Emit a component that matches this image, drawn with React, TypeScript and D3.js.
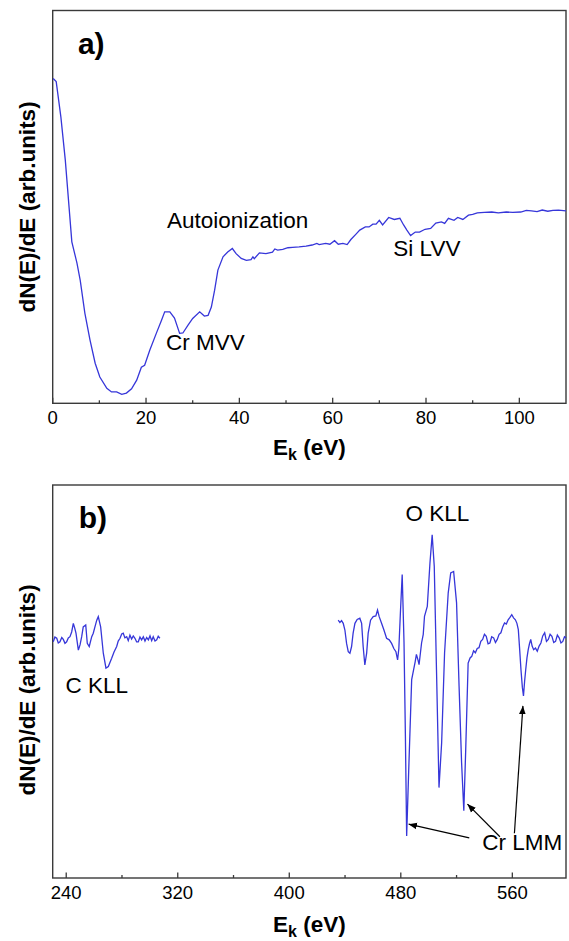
import React from "react";
import * as d3 from "d3";

// panel a) low energy region, E_k in eV, signal in arbitrary units (0..100 of the frame)
const aEnergy = [
  0.1, 0.75, 1.75, 2.7, 4.1, 5.2, 5.9, 6.9, 8.0, 9.1, 10.1, 11.6, 12.6, 13.7, 14.8, 15.8,
  16.9, 18.0, 19.0, 19.7, 20.8, 22.2, 23.3, 24.0, 25.1, 26.1, 27.2, 27.9, 29.0, 30.0, 31.5,
  32.5, 33.3, 34.0, 34.7, 35.4, 36.5, 37.5, 38.5, 39.3, 40.4, 41.5, 42.5, 42.9, 43.2, 44.3,
  45.7, 47.1, 47.6, 48.2, 49.3, 50.4, 51.4, 52.8, 54.3, 55.6, 56.6, 57.1, 58.5, 59.4, 60.4,
  61.2, 62.2, 63.1, 63.9, 65.1, 65.8, 67.0, 67.8, 68.6, 69.3, 70.0, 70.7, 72.0, 73.2, 74.4,
  75.2, 75.9, 76.7, 77.7, 78.6, 79.8, 81.0, 82.1, 83.3, 84.0, 84.8, 86.0, 86.8, 87.9, 89.1,
  90.0, 91.0, 92.5, 94.1, 95.5, 97.2, 98.6, 100.3, 101.5, 102.6, 103.8, 104.9, 106.1, 107.2,
  108.4, 110,
];
const aSignal = [
  82.7, 81.9, 72.9, 61.9, 41.1, 35.7, 31.3, 22.9, 16.1, 10.2, 6.7, 3.8, 2.9, 2.9, 2.3, 2.6,
  3.7, 5.9, 9.2, 9.7, 13.5, 17.8, 21.1, 23.3, 23.3, 21.7, 17.8, 17.9, 19.9, 21.6, 23.3,
  22.2, 22.4, 24.5, 28.8, 33.9, 37.3, 38.5, 39.4, 38.1, 36.9, 36.4, 36.6, 37.3, 36.8, 38.3,
  38.1, 38.5, 39.3, 39.0, 39.2, 39.6, 39.7, 39.8, 40.0, 40.3, 40.7, 40.4, 40.7, 40.5, 41.4,
  40.5, 40.7, 40.4, 41.7, 43.2, 44.1, 44.9, 44.9, 45.6, 45.6, 46.6, 45.4, 47.3, 46.8, 47.1,
  45.4, 44.1, 42.7, 43.6, 43.6, 44.3, 44.5, 45.9, 46.2, 45.8, 47.1, 46.6, 47.3, 46.8, 47.9,
  48.1, 48.5, 48.6, 48.7, 48.5, 48.7, 48.6, 48.7, 49.1, 49.0, 48.8, 49.2, 48.9, 49.1, 49.2,
  49.0,
];
const aTicks = [0, 20, 40, 60, 80, 100];
const aMinorTicks = [10, 30, 50, 70, 90];

// panel b) high energy region, two recorded windows
const bLowEnergy = [
  230.7, 231.9, 233.2, 234.3, 235.5, 236.8, 237.9, 239.1, 240.3, 241.5,
  242.7, 243.9, 245.1, 246.1, 247.0, 248.7, 249.9, 251.1, 252.2, 254.0,
  255.1, 256.5, 258.3, 259.4, 260.6, 261.9, 263.0, 264.7, 266.6, 268.5,
  270.2, 272.6, 274.3, 276.2, 277.3, 278.6, 279.8, 280.9, 282.1, 283.4,
  284.5, 285.7, 286.9, 288.1, 289.3, 290.5, 291.7, 292.9, 294.1, 295.3,
  296.5, 297.7, 298.9, 300.1, 301.3, 302.4, 303.7, 304.9, 306.0, 307.2,
];
const bLowSignal = [
  60.1, 61.3, 61.0, 59.8, 60.1, 61.2, 60.7, 59.7, 60.1, 61.1,
  61.4, 62.6, 64.8, 63.6, 62.3, 58.0, 59.3, 61.4, 63.9, 64.4,
  59.7, 58.9, 61.4, 62.3, 63.9, 65.6, 66.5, 63.9, 57.2, 53.4,
  53.8, 55.9, 57.5, 58.9, 60.3, 61.0, 62.1, 62.3, 61.1, 61.4,
  60.4, 61.8, 60.8, 61.6, 61.0, 60.1, 60.1, 61.3, 60.6, 61.4,
  60.3, 61.2, 60.6, 61.6, 60.4, 61.4, 60.3, 60.6, 61.5, 61.0,
];
const bHighEnergy = [
  435.1, 436.3, 437.5, 438.7, 439.9, 441.1, 442.3, 443.5, 444.7, 445.8,
  447.1, 448.7, 450.6, 451.9, 453.0, 454.2, 455.5, 456.6, 458.3, 460.2,
  462.1, 463.3, 464.5, 466.2, 467.9, 469.8, 471.7, 473.4, 475.0, 476.5,
  477.7, 478.6, 479.8, 481.0, 482.3, 483.3, 484.2, 485.7, 487.8, 489.2,
  490.3, 491.2, 492.3, 493.1, 494.9, 496.1, 497.0, 499.0, 500.9, 502.5,
  504.0, 505.6, 507.4, 509.3, 511.4, 514.0, 515.8, 517.9, 520.0, 521.8,
  523.6, 525.2, 526.5, 528.3, 529.7, 530.9, 532.2, 533.5, 534.8, 536.1,
  537.4, 538.7, 540.0, 541.3, 542.6, 543.9, 545.2, 546.6, 547.9, 549.2,
  550.5, 551.8, 553.1, 554.4, 555.7, 557.0, 558.3, 559.6, 560.9, 562.2,
  563.3, 564.3, 565.2, 566.2, 567.2, 568.0, 568.8, 569.6, 570.5, 571.4,
  572.3, 573.2, 574.2, 575.3, 576.6, 577.9, 579.2, 580.5, 581.8, 583.2,
  584.5, 585.8, 587.1, 588.4, 589.7, 591.0, 592.3, 593.6, 594.9, 596.2,
  597.4, 598.5,
];
const bHighSignal = [
  65.6, 65.0, 65.5, 64.8, 63.1, 59.7, 57.6, 57.2, 58.9, 62.3,
  64.8, 65.8, 66.1, 64.8, 58.9, 54.2, 57.2, 62.3, 65.6, 66.5,
  66.7, 68.2, 66.5, 64.8, 63.1, 61.0, 60.6, 59.7, 58.4, 57.6,
  55.5, 58.4, 68.2, 77.2, 60.0, 36.1, 10.7, 27.7, 50.5, 53.0,
  55.0, 56.9, 55.5, 54.3, 59.8, 62.0, 66.6, 69.1, 80.1, 87.3,
  79.3, 53.0, 23.0, 34.4, 57.3, 72.5, 77.6, 78.0, 70.0, 48.8,
  29.4, 17.1, 31.9, 54.7, 56.0, 56.4, 57.8, 57.3, 58.4, 58.6,
  60.2, 60.7, 62.0, 61.5, 59.6, 59.8, 61.4, 61.1, 59.9, 60.7,
  62.0, 62.4, 63.9, 64.9, 64.6, 65.7, 66.3, 67.0, 66.2, 65.7,
  64.8, 63.2, 58.5, 53.0, 48.5, 46.3, 50.0, 53.0, 56.0, 58.1,
  59.6, 60.7, 59.0, 58.1, 58.5, 57.7, 59.0, 59.8, 61.6, 62.4,
  60.2, 60.7, 62.0, 61.5, 59.9, 60.2, 61.8, 61.1, 59.8, 60.2,
  61.4, 61.1,
];
const bTicks = [240, 320, 400, 480, 560];
const bMinorTicks = [280, 360, 440, 520];

const W = 569;
const H = 941;
const left = 52.7;
const right = 566;
const lineColor = "#3636d9";
const frameColor = "#3a3a3a";
const font = "'Liberation Sans', Arial, sans-serif";

type Panel = {
  top: number;
  bottom: number;
  x: d3.ScaleLinear<number, number>;
  y: d3.ScaleLinear<number, number>;
  ticks: number[];
  minor: number[];
  titleY: number;
  yTitleY: number;
};

function Frame({ p }: { p: Panel }) {
  return (
    <g>
      <rect
        x={left}
        y={p.top}
        width={right - left}
        height={p.bottom - p.top}
        fill="none"
        stroke={frameColor}
        strokeWidth={1.4}
      />
      {p.ticks.map((t) => (
        <g key={t}>
          <line x1={p.x(t)} x2={p.x(t)} y1={p.bottom} y2={p.bottom - 5.5} stroke={frameColor} strokeWidth={1.3} />
          <text x={p.x(t)} y={p.bottom + 21} textAnchor="middle" fontSize={18.5} fontFamily={font}>
            {t}
          </text>
        </g>
      ))}
      {p.minor.map((t) => (
        <line key={t} x1={p.x(t)} x2={p.x(t)} y1={p.bottom} y2={p.bottom - 3} stroke={frameColor} strokeWidth={1.3} />
      ))}
      <text x={(left + right) / 2} y={p.titleY} textAnchor="middle" fontSize={22.5} fontWeight="bold" fontFamily={font}>
        E<tspan fontSize={16} dy={5}>k</tspan>
        <tspan dy={-5}> (eV)</tspan>
      </text>
      <text
        transform={`translate(35,${p.yTitleY}) rotate(-90)`}
        textAnchor="middle"
        fontSize={22.5}
        fontWeight="bold"
        fontFamily={font}
      >
        dN(E)/dE (arb.units)
      </text>
    </g>
  );
}

export default function App() {
  const pa: Panel = {
    top: 10.5,
    bottom: 403.3,
    x: d3.scaleLinear().domain([0, 110]).range([left, right]),
    y: d3.scaleLinear().domain([0, 100]).range([403.3, 10.5]),
    ticks: aTicks,
    minor: aMinorTicks,
    titleY: 455,
    yTitleY: 207,
  };
  const pb: Panel = {
    top: 485,
    bottom: 878,
    x: d3.scaleLinear().domain([230.3, 598.5]).range([left, right]),
    y: d3.scaleLinear().domain([0, 100]).range([878, 485]),
    ticks: bTicks,
    minor: bMinorTicks,
    titleY: 932,
    yTitleY: 690,
  };

  const lineA = d3
    .line<number>()
    .x((_, i) => pa.x(aEnergy[i]))
    .y((d) => pa.y(d));
  const lineBLow = d3
    .line<number>()
    .x((_, i) => pb.x(bLowEnergy[i]))
    .y((d) => pb.y(d));
  const lineBHigh = d3
    .line<number>()
    .x((_, i) => pb.x(bHighEnergy[i]))
    .y((d) => pb.y(d));

  // arrows from the "Cr LMM" label to the three chromium dips (data coords)
  const arrows = [
    [529.1, 10.2, 485.6, 13.7],
    [551.1, 10.5, 527.8, 18.8],
    [561.5, 11.4, 567.6, 43.8],
  ];

  return (
    <svg
      width={W}
      height={H}
      style={{ position: "absolute", left: 0, top: 0, background: "#fff" }}
    >
      <defs>
        <marker id="head" viewBox="0 0 10 10" refX="10" refY="5" markerWidth="7" markerHeight="7" orient="auto">
          <path d="M0,1 L10,5 L0,9 z" fill="#000" />
        </marker>
      </defs>
      <rect width={W} height={H} fill="#fff" />

      <Frame p={pa} />
      <path d={lineA(aSignal) ?? ""} fill="none" stroke={lineColor} strokeWidth={1.3} />
      <g fontFamily={font} fontSize={22.5}>
        <text x={pa.x(5.4)} y={pa.y(88.9)} fontSize={30} fontWeight="bold">a)</text>
        <text x={pa.x(24.5)} y={pa.y(44.6)}>Autoionization</text>
        <text x={pa.x(24.3)} y={pa.y(13.6)}>Cr MVV</text>
        <text x={pa.x(73)} y={pa.y(37.5)}>Si LVV</text>
      </g>

      <Frame p={pb} />
      <path d={lineBLow(bLowSignal) ?? ""} fill="none" stroke={lineColor} strokeWidth={1.3} />
      <path d={lineBHigh(bHighSignal) ?? ""} fill="none" stroke={lineColor} strokeWidth={1.3} />
      <g fontFamily={font} fontSize={22.5}>
        <text x={pb.x(248.9)} y={pb.y(89)} fontSize={30} fontWeight="bold">b)</text>
        <text x={pb.x(483.3)} y={pb.y(90.8)}>O KLL</text>
        <text x={pb.x(239.5)} y={pb.y(47.1)}>C KLL</text>
        <text x={pb.x(538.5)} y={pb.y(7.1)}>Cr LMM</text>
      </g>
      {arrows.map(([x1, y1, x2, y2], i) => (
        <line
          key={i}
          x1={pb.x(x1)}
          y1={pb.y(y1)}
          x2={pb.x(x2)}
          y2={pb.y(y2)}
          stroke="#000"
          strokeWidth={1.2}
          markerEnd="url(#head)"
        />
      ))}
    </svg>
  );
}
